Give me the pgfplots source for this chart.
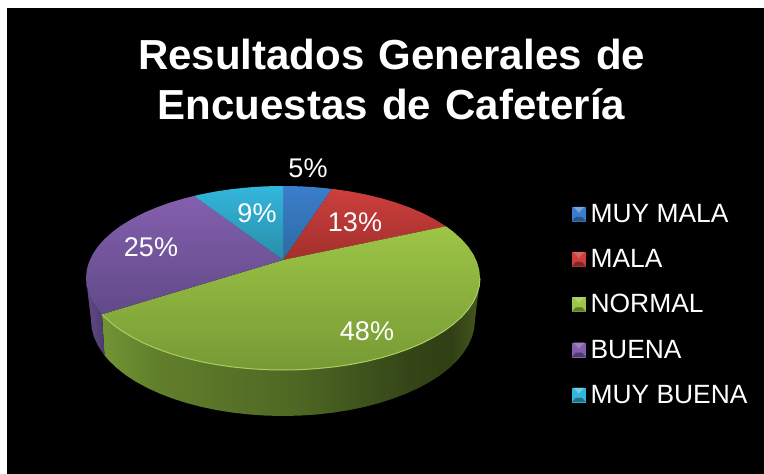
\documentclass[border=0pt]{standalone}
\usepackage{fontspec}
\setmainfont{Liberation Sans}
\usepackage{pgfplots}
\pgfplotsset{compat=1.18}

% side walls, stops 25bp..75bp span the path's width
\pgfdeclarehorizontalshading{greenside}{100bp}{
  rgb(0bp)=(0.45,0.58,0.20);
  rgb(25bp)=(0.45,0.58,0.20);
  rgb(32bp)=(0.38,0.50,0.17);
  rgb(50bp)=(0.31,0.41,0.14);
  rgb(66bp)=(0.20,0.27,0.09);
  rgb(71bp)=(0.19,0.25,0.08);
  rgb(75bp)=(0.27,0.34,0.12);
  rgb(100bp)=(0.27,0.34,0.12)}

\definecolor{blueA}{HTML}{3B7DCB}
\definecolor{blueB}{HTML}{2D6BA3}
\definecolor{redA}{HTML}{CC3F3D}
\definecolor{redB}{HTML}{A22F2C}
\definecolor{greenA}{HTML}{9DC546}
\definecolor{greenB}{HTML}{779A35}
\definecolor{purpleA}{HTML}{845FAE}
\definecolor{purpleB}{HTML}{614A88}
\definecolor{cyanA}{HTML}{33B6DC}
\definecolor{cyanB}{HTML}{2A8DA8}

\tikzset{pct/.style={text=white, font=\fontsize{27}{30}\selectfont, anchor=center}}
\pgfplotsset{
  slice/.style={forget plot, draw=none},
  % legend key with the bevelled look: args top, mid, bottom
  keyimg/.style n args={3}{legend image code/.code={
    \fill[#2] (0pt,-7pt) rectangle (13pt,7pt);
    \fill[#1] (1.5pt,7pt) -- (11.5pt,7pt) -- (6.5pt,1.5pt) -- cycle;
    \fill[#3] (0pt,-7pt) -- (13pt,-7pt) -- (9.5pt,-3pt) -- (3.5pt,-3pt) -- cycle;
  }},
}

\begin{document}
\begin{tikzpicture}
\begin{axis}[
    scale only axis, width=764pt, height=474pt,
    xmin=0, xmax=764, ymin=0, ymax=474, y dir=reverse,
    hide axis, clip=false,
    title={Resultados\hspace{.34em}Generales\hspace{.34em}de\\Encuestas\hspace{.34em}de\hspace{.34em}Cafetería},
    title style={at={(0.5125,0.8186)}, anchor=center, align=center, text=white,
      font=\fontsize{42}{50}\selectfont\bfseries},
    legend style={at={(axis cs:572,204)}, anchor=north west, draw=none, fill=none,
      text=white, font=\fontsize{26.4}{30}\selectfont, row sep=25.5pt,
      inner sep=0pt, nodes={inner sep=0pt, anchor=west},
      /tikz/column 1/.style={column sep=5pt}},
    legend cell align=left,
]
% keeps the white margin in the page
\addplot[slice] coordinates {(0,0) (764,474)};
% background
\addplot[slice, fill=black] coordinates {(7,8) (764,8) (764,474) (7,474) (7,8)};

% walls
\addplot[slice, shading=greenside] coordinates {
  (480.0,278.0) (479.3,286.0) (477.0,294.0) (473.3,301.8) (468.1,309.5) (461.5,316.9)
  (453.6,324.0) (444.4,330.8) (433.9,337.1) (422.3,343.1) (409.6,348.5) (396.0,353.4)
  (381.5,357.7) (366.3,361.4) (350.4,364.5) (334.0,366.9) (317.2,368.6) (300.2,369.7)
  (283.0,370.0) (265.8,369.7) (248.8,368.6) (232.0,366.9) (215.6,364.5) (199.7,361.4)
  (184.5,357.7) (170.0,353.4) (156.4,348.5) (143.7,343.1) (132.1,337.1) (121.6,330.8)
  (112.4,324.0) (104.5,316.9) (102.0,314.2)
  (104.5,355.3) (109.0,360.6) (116.7,368.0) (125.7,375.1) (135.9,381.7) (147.2,387.9)
  (159.6,393.5) (172.9,398.6) (187.0,403.1) (201.9,407.0) (217.3,410.2) (233.3,412.7)
  (249.7,414.5) (266.3,415.6) (283.0,416.0) (299.7,415.6) (316.3,414.5) (332.7,412.7)
  (348.7,410.2) (364.1,407.0) (379.0,403.1) (393.1,398.6) (406.4,393.5) (418.8,387.9)
  (430.1,381.7) (440.3,375.1) (449.3,368.0) (457.0,360.6) (463.4,352.8) (468.5,344.8)
  (472.1,336.7) (474.3,328.4) (475.0,320.0) (480.0,278.0)};
\addplot[slice, left color=purpleB, right color=purpleB!80!black] coordinates {
  (102.0,314.2) (97.9,309.5) (92.7,301.8) (89.0,294.0) (86.7,286.0) (86.0,278.0)
  (91.0,320.0) (91.7,328.4) (93.9,336.7) (97.5,344.8) (102.6,352.8) (104.5,355.3)
  (102.0,314.2)};

% top face: 5 13 48 25 9 percent
\addplot[slice, top color=blueA, bottom color=blueB] coordinates {
  (283,260) (283.0,186.0) (300.2,186.3) (317.2,187.4) (332.0,188.9) (283,260)};
\addplot[slice, top color=redA, bottom color=redB] coordinates {
  (283,260) (332.0,188.9) (334.0,189.1) (350.4,191.5) (366.3,194.6) (381.5,198.3)
  (396.0,202.6) (409.6,207.5) (422.3,212.9) (433.9,218.9) (446.0,226.3) (283,260)};
\addplot[slice, top color=greenA, bottom color=greenB] coordinates {
  (283,260) (446.0,226.3) (453.6,232.0) (461.5,239.1) (468.1,246.5) (473.3,254.2)
  (477.0,262.0) (479.3,270.0) (480.0,278.0) (479.3,286.0) (477.0,294.0) (473.3,301.8)
  (468.1,309.5) (461.5,316.9) (453.6,324.0) (444.4,330.8) (433.9,337.1) (422.3,343.1)
  (409.6,348.5) (396.0,353.4) (381.5,357.7) (366.3,361.4) (350.4,364.5) (334.0,366.9)
  (317.2,368.6) (300.2,369.7) (283.0,370.0) (265.8,369.7) (248.8,368.6) (232.0,366.9)
  (215.6,364.5) (199.7,361.4) (184.5,357.7) (170.0,353.4) (156.4,348.5) (143.7,343.1)
  (132.1,337.1) (121.6,330.8) (112.4,324.0) (104.5,316.9) (102.0,314.2) (283,260)};
\addplot[slice, top color=purpleA, bottom color=purpleB] coordinates {
  (283,260) (102.0,314.2) (97.9,309.5) (92.7,301.8) (89.0,294.0) (86.7,286.0) (86.0,278.0)
  (86.7,270.0) (89.0,262.0) (92.7,254.2) (97.9,246.5) (104.5,239.1) (112.4,232.0)
  (121.6,225.2) (132.1,218.9) (143.7,212.9) (156.4,207.5) (170.0,202.6) (184.5,198.3)
  (194.0,196.0) (283,260)};
\addplot[slice, top color=cyanA, bottom color=cyanB] coordinates {
  (283,260) (194.0,196.0) (199.7,194.6) (215.6,191.5) (232.0,189.1) (248.8,187.4)
  (265.8,186.3) (283.0,186.0) (283,260)};

% highlight along the front rim
\addplot[forget plot, color=greenA!85!white, line width=1pt] coordinates {
  (102.0,314.2) (104.5,316.9) (112.4,324.0) (121.6,330.8) (132.1,337.1) (143.7,343.1)
  (156.4,348.5) (170.0,353.4) (184.5,357.7) (199.7,361.4) (215.6,364.5) (232.0,366.9)
  (248.8,368.6) (265.8,369.7) (283.0,370.0) (300.2,369.7) (317.2,368.6) (334.0,366.9)
  (350.4,364.5) (366.3,361.4) (381.5,357.7) (396.0,353.4) (409.6,348.5) (422.3,343.1)
  (433.9,337.1) (444.4,330.8) (453.6,324.0) (461.5,316.9) (468.1,309.5) (473.3,301.8)
  (477.0,294.0) (479.3,286.0) (480.0,278.0)};

\node[pct] at (axis cs:308,168) {5\%};
\node[pct] at (axis cs:355,222) {13\%};
\node[pct] at (axis cs:367,331) {48\%};
\node[pct] at (axis cs:151,247) {25\%};
\node[pct] at (axis cs:257,213) {9\%};

\addlegendimage{keyimg={blueA!70!white}{blueA}{blueB!80!black}}
\addlegendentry{MUY MALA}
\addlegendimage{keyimg={redA!80!white}{redA}{redB!80!black}}
\addlegendentry{MALA}
\addlegendimage{keyimg={greenA!80!white}{greenA}{greenB!80!black}}
\addlegendentry{NORMAL}
\addlegendimage{keyimg={purpleA!80!white}{purpleA}{purpleB!80!black}}
\addlegendentry{BUENA}
\addlegendimage{keyimg={cyanA!70!white}{cyanA}{cyanB!80!black}}
\addlegendentry{MUY BUENA}
\end{axis}
\end{tikzpicture}
\end{document}
